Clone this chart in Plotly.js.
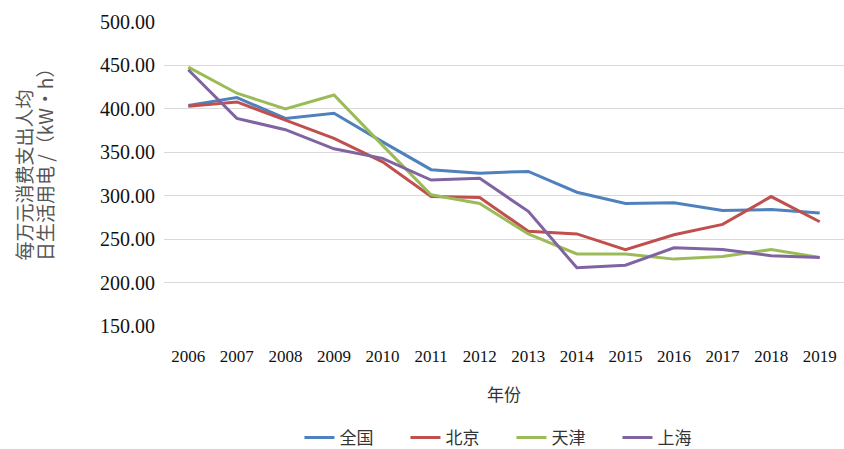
<!DOCTYPE html>
<html>
<head>
<meta charset="utf-8">
<script src="https://cdn.plot.ly/plotly-3.0.1.min.js"></script>
<style>html,body{margin:0;padding:0;background:#fff;}#chart{width:844px;height:449px;}</style>
</head>
<body>
<div id="chart"></div>
<script>
var years = ['2006','2007','2008','2009','2010','2011','2012','2013','2014','2015','2016','2017','2018','2019'];
var national = [404, 413, 389, 395, 362, 330, 326, 328, 304, 291, 292, 283, 284, 280];
var beijing  = [403, 408, 387, 366, 339, 299, 298, 259, 256, 238, 255, 267, 299, 270];
var tianjin  = [448, 418, 400, 416, 358, 301, 291, 256, 233, 233, 227, 230, 238, 229];
var shanghai = [445, 389, 376, 354, 343, 318, 320, 282, 217, 220, 240, 238, 231, 229];
var seriesNames = ['全国','北京','天津','上海'];
var seriesColors = ['#4F81BD','#C0504D','#9BBB59','#8064A2'];
var seriesData = [national, beijing, tianjin, shanghai];
var yTitleLines = ['每万元消费支出人均', '日生活用电 /（kW·h）'];
var xTitle = '年份';

var traces = seriesData.map(function(d, i){
  return {x: years, y: d, type: 'scatter', mode: 'lines', name: seriesNames[i],
          line: {color: seriesColors[i], width: 3}};
});

var serif = '"Liberation Serif", serif';
var cjk = '"Noto Sans CJK SC", sans-serif';
var layout = {
  width: 844, height: 449,
  margin: {l: 164, r: 0, t: 22, b: 123},
  paper_bgcolor: '#fff', plot_bgcolor: '#fff',
  showlegend: true,
  legend: {orientation: 'h', xref: 'container', yref: 'container', x: 0.606, xanchor: 'center', y: 0.0245, yanchor: 'middle',
           font: {family: cjk, size: 17, color: '#333'}, entrywidth: 61, entrywidthmode: 'pixels'},
  xaxis: {type: 'category', range: [-0.5, 13.5], showgrid: false, zeroline: false, showline: false,
          ticks: '', tickfont: {family: serif, size: 17, color: '#111'}, ticklabelstandoff: 18,
          title: {text: xTitle, font: {family: cjk, size: 17, color: '#333'}, standoff: 24}},
  yaxis: {range: [150, 500], dtick: 50, tick0: 150, tickformat: '.2f', showgrid: true, gridcolor: '#D9D9D9', gridwidth: 1,
          zeroline: false, showline: false, ticks: '', ticklabelstandoff: 8,
          tickfont: {family: serif, size: 20, color: '#111'}},
  annotations: [
    {text: yTitleLines[0], textangle: -90, xref: 'paper', yref: 'paper', x: 0, y: (326 - 263) / 304, xanchor: 'center', yanchor: 'bottom',
     xshift: -141, showarrow: false, font: {family: cjk, size: 19, color: '#555'}},
    {text: yTitleLines[1], textangle: -90, xref: 'paper', yref: 'paper', x: 0, y: (326 - 263) / 304, xanchor: 'center', yanchor: 'bottom',
     xshift: -120, showarrow: false, font: {family: cjk, size: 19, color: '#555'}}
  ]
};
Plotly.newPlot('chart', traces, layout, {displayModeBar: false, staticPlot: true});
</script>
</body>
</html>
